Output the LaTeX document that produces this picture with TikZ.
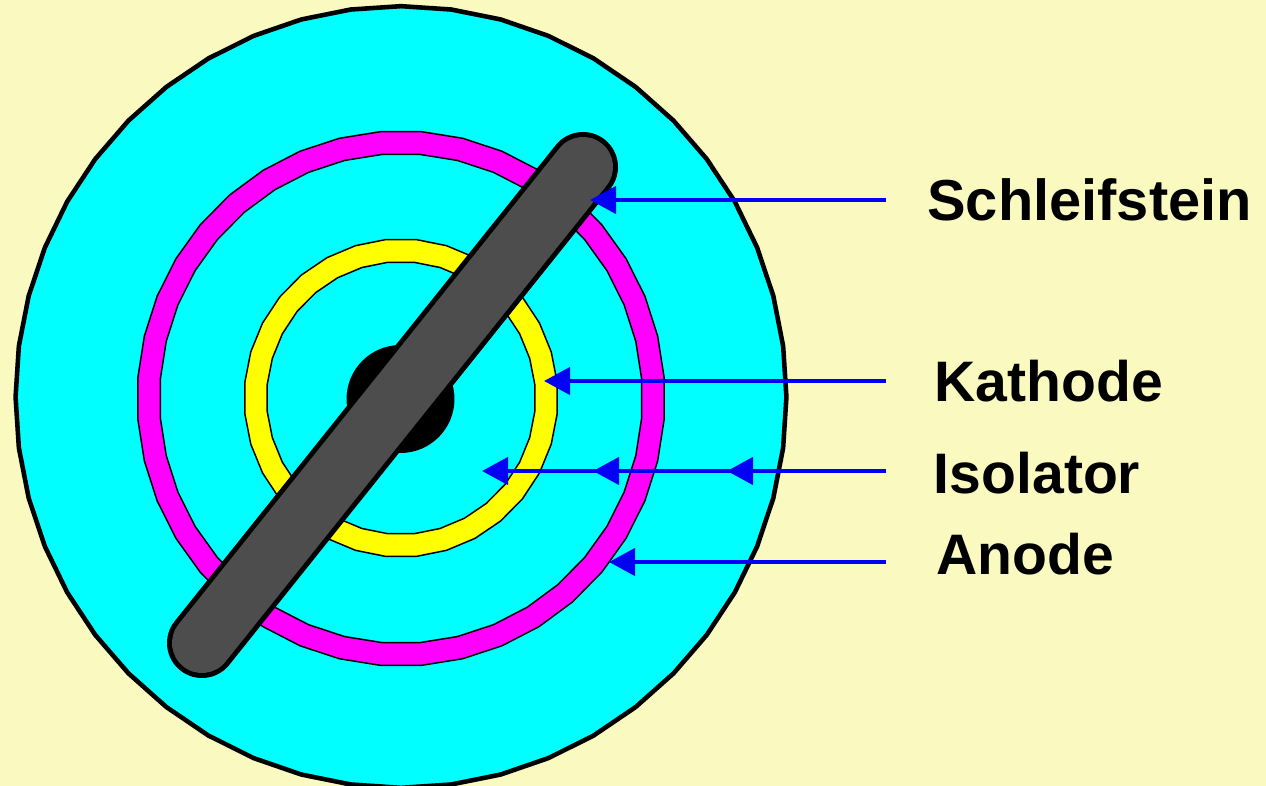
\documentclass[tikz,border=0pt]{standalone}
\usepackage{fontspec}
\setmainfont{Liberation Sans}
\usetikzlibrary{arrows.meta, shapes.geometric}
\definecolor{bgpaper}{RGB}{249,249,192}
\definecolor{bargray}{RGB}{77,77,77}
\definecolor{arrowblue}{RGB}{0,0,245}
\definecolor{isocyan}{RGB}{0,255,255}
\definecolor{anodepink}{RGB}{255,0,255}
\definecolor{kathodeyellow}{RGB}{255,255,0}

\begin{document}
\begin{tikzpicture}[
    x=0.02cm, y=-0.02cm,
    >={Triangle[length=5.2mm, width=5.4mm]},
    disc/.style={regular polygon, regular polygon sides=#1, draw=black, inner sep=0pt, outer sep=0pt, yscale=1.014, transform shape},
    ringedge/.style={line width=0.85pt},
    pointer/.style={->, draw=arrowblue, fill=arrowblue, line width=2.5pt},
    partlabel/.style={anchor=base west, inner sep=0pt, font=\bfseries\fontsize{32.5}{36}\selectfont}
]

    \useasboundingbox (0,0) rectangle (1266,786);
    \clip (0,0) rectangle (1266,786);
    \fill[bgpaper] (0,0) rectangle (1266,786);

    % ================= rings =================
    \node[disc=48, fill=isocyan, line width=2.6pt, shape border rotate=3.75, minimum size=15.42cm] (anodebody) at (401,397) {};
    \node[disc=40, fill=anodepink, ringedge, minimum size=10.56cm] (anodeouter) at (401,398.5) {};
    \node[disc=40, fill=isocyan, ringedge, minimum size=9.66cm] (anodeinner) at (401,398.5) {};
    \node[disc=32, fill=kathodeyellow, ringedge, minimum size=6.28cm] (kathodeouter) at (401,398) {};
    \node[disc=32, fill=isocyan, ringedge, minimum size=5.38cm] (kathodeinner) at (401,398) {};
    \node[circle, fill=black, minimum size=2.16cm, inner sep=0pt] (axis) at (400.5,399) {};

    % ================= grinding bar =================
    \coordinate (barnorth) at (583,167);
    \coordinate (barsouth) at (202,643);
    \draw[draw=black, line width=2.85pt, double=bargray, double distance=1.2cm, line cap=round] (barnorth) -- (barsouth);

    % ================= labels =================
    \node[partlabel, font=\bfseries\fontsize{32.9}{36}\selectfont] (schleifstein) at (927,221) {Schleifstein};
    \node[partlabel] (kathode) at (934,402) {Kathode};
    \node[partlabel] (isolator) at (933.5,493) {Isolator};
    \node[partlabel] (anode) at (936,574) {Anode};

    % ================= pointers =================
    \coordinate (tipschleif) at (590,200);
    \coordinate (tipkathode) at (544,381);
    \coordinate (tipisoa) at (727,471);
    \coordinate (tipisob) at (593,471);
    \coordinate (tipisoc) at (482,471);
    \coordinate (tipanode) at (609,562);

    \draw[pointer] (886,200) -- (tipschleif);
    \draw[pointer] (886,381) -- (tipkathode);
    \draw[pointer] (886,471) -- (tipisoa);
    \draw[pointer] (886,471) -- (tipisob);
    \draw[pointer] (886,471) -- (tipisoc);
    \draw[pointer] (886,562) -- (tipanode);

\end{tikzpicture}
\end{document}
